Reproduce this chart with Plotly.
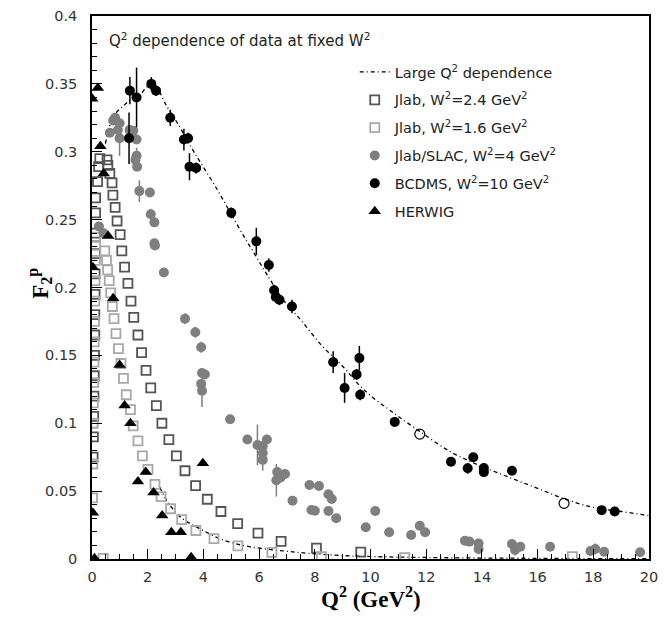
import plotly.graph_objects as go

# ---------------- data ----------------
# "Large Q^2 dependence" curve, W^2 = 10 GeV^2
curve10_q2 = [0.48, 0.77, 1.14, 1.5, 1.77, 2.0, 2.3, 2.7, 3.1, 3.6, 3.9, 4.5, 5.0, 5.5, 5.8, 6.24,
              6.9, 7.5, 8.26, 9.0, 9.6, 10.08, 10.6, 11.0, 11.77, 12.87, 13.9, 15.0, 16.0, 17.0,
              18.0, 19.0, 20.0]
curve10_f2 = [0.306, 0.326, 0.334, 0.34, 0.343, 0.348, 0.347, 0.333, 0.320, 0.302, 0.292, 0.272,
              0.254, 0.236, 0.226, 0.211, 0.190, 0.176, 0.157, 0.142, 0.128, 0.119, 0.111, 0.105,
              0.094, 0.079, 0.069, 0.060, 0.052, 0.044, 0.038, 0.035, 0.032]

# same curve, W^2 = 1.6 GeV^2
curve16_q2 = [2.43, 2.75, 3.23, 3.85, 4.7, 5.69, 6.9, 7.77, 9.0, 10.2, 12.0, 14.0, 16.0, 18.0, 20.0]
curve16_f2 = [0.053, 0.041, 0.030, 0.0226, 0.014, 0.009, 0.0059, 0.0042, 0.0025, 0.0017, 0.0011,
              0.0007, 0.0005, 0.0003, 0.0002]

# Jlab, W^2 = 2.4 GeV^2
jlab24_q2 = [0.04, 0.05, 0.06, 0.07, 0.08, 0.09, 0.10, 0.10, 0.11, 0.11, 0.12, 0.12, 0.13, 0.13,
             0.20, 0.24, 0.28, 0.54, 0.57, 0.64, 0.72, 0.75, 0.83, 0.90, 1.01, 1.07, 1.17, 1.29,
             1.40, 1.50, 1.65, 1.78, 1.94, 2.11, 2.31, 2.51, 2.76, 3.03, 3.34, 3.72, 4.14, 4.63,
             5.23, 5.96, 6.79, 8.06, 9.65]
jlab24_f2 = [0.075, 0.09, 0.105, 0.12, 0.135, 0.15, 0.165, 0.18, 0.195, 0.21, 0.225, 0.24, 0.255,
             0.266, 0.278, 0.289, 0.295, 0.294, 0.290, 0.284, 0.277, 0.268, 0.259, 0.249, 0.239,
             0.227, 0.215, 0.203, 0.190, 0.178, 0.165, 0.152, 0.139, 0.126, 0.113, 0.100, 0.088,
             0.076, 0.065, 0.054, 0.044, 0.035, 0.026, 0.019, 0.013, 0.008, 0.005]

# Jlab, W^2 = 1.6 GeV^2
jlab16_q2 = [0.02, 0.03, 0.04, 0.05, 0.06, 0.07, 0.08, 0.09, 0.10, 0.11, 0.12, 0.13, 0.13, 0.40,
             0.46, 0.52, 0.56, 0.62, 0.67, 0.73, 0.79, 0.86, 0.95, 1.04, 1.13, 1.23, 1.38, 1.48,
             1.65, 1.81, 2.01, 2.26, 2.48, 2.82, 3.22, 3.73, 4.38, 5.24, 6.46, 8.24, 11.23, 17.25]
jlab16_f2 = [0.045, 0.07, 0.10, 0.115, 0.13, 0.145, 0.16, 0.175, 0.19, 0.205, 0.22, 0.231, 0.237,
             0.0005, 0.227, 0.220, 0.213, 0.205, 0.196, 0.186, 0.177, 0.166, 0.155, 0.144, 0.133,
             0.121, 0.110, 0.098, 0.087, 0.076, 0.066, 0.055, 0.046, 0.037, 0.029, 0.021, 0.015,
             0.0096, 0.0049, 0.0017, 0.001, 0.0017]

# Jlab/SLAC, W^2 = 4 GeV^2
slac_q2 = [0.25, 0.42, 0.64, 0.76, 0.83, 0.93, 0.99, 0.99, 1.35, 1.48, 1.60, 1.60, 1.56, 1.62,
           1.70, 2.08, 2.11, 2.24, 2.24, 2.26, 2.58, 3.34, 3.71, 3.92, 3.95, 4.05, 3.92, 3.95,
           4.96, 5.58, 5.94, 6.28, 6.13, 6.13, 6.13, 6.65, 6.62, 6.77, 6.93, 7.20, 7.81, 8.15,
           8.49, 8.61, 7.88, 8.00, 8.49, 8.77, 10.17, 9.83, 10.67, 11.46, 11.77, 11.96, 13.39,
           13.55, 13.88, 13.88, 15.08, 15.19, 15.38, 16.45, 17.90, 18.07, 18.39, 19.68]
slac_f2 = [0.245, 0.240, 0.314, 0.323, 0.325, 0.316, 0.321, 0.310, 0.316, 0.3155, 0.309, 0.297,
           0.294, 0.289, 0.271, 0.270, 0.254, 0.248, 0.2326, 0.231, 0.211, 0.177, 0.167, 0.156,
           0.137, 0.136, 0.129, 0.124, 0.103, 0.088, 0.084, 0.088, 0.083, 0.078, 0.073, 0.064,
           0.058, 0.060, 0.0626, 0.043, 0.0545, 0.0538, 0.0477, 0.0442, 0.0361, 0.0356, 0.0354,
           0.030, 0.0354, 0.0234, 0.0197, 0.0177, 0.0245, 0.0197, 0.0135, 0.0128, 0.0115, 0.0074,
           0.011, 0.0066, 0.009, 0.009, 0.0059, 0.0074, 0.0054, 0.005]
slac_err = [0.003, 0.003, 0.003, 0.003, 0.003, 0.003, 0.003, 0.013, 0.003, 0.003, 0.003, 0.006,
            0.003, 0.003, 0.008, 0.003, 0.004, 0.003, 0.003, 0.003, 0.003, 0.004, 0.004, 0.004,
            0.003, 0.003, 0.003, 0.012, 0.003, 0.003, 0.015, 0.003, 0.003, 0.003, 0.008, 0.003,
            0.012, 0.003, 0.003, 0.003, 0.002, 0.002, 0.002, 0.002, 0.002, 0.002, 0.002, 0.002,
            0.002, 0.002, 0.002, 0.002, 0.002, 0.002, 0.002, 0.002, 0.002, 0.004, 0.002, 0.004,
            0.002, 0.002, 0.002, 0.004, 0.002, 0.002]

# BCDMS, W^2 = 10 GeV^2
bcdms_q2 = [1.36, 1.60, 1.33, 2.13, 2.30, 2.81, 3.30, 3.45, 3.50, 3.74, 5.0, 5.9, 6.35, 6.54, 6.60,
            6.73, 7.18, 8.66, 9.60, 9.50, 9.07, 9.63, 10.87, 12.89, 13.49, 13.69, 14.07, 14.07,
            15.08, 18.30, 18.77]
bcdms_f2 = [0.345, 0.340, 0.310, 0.350, 0.345, 0.325, 0.309, 0.310, 0.289, 0.288, 0.255, 0.234,
            0.2166, 0.198, 0.193, 0.191, 0.186, 0.145, 0.148, 0.136, 0.126, 0.121, 0.101, 0.0717,
            0.0668, 0.0749, 0.067, 0.064, 0.065, 0.036, 0.035]
bcdms_err = [0.01, 0.022, 0.019, 0.005, 0.004, 0.006, 0.008, 0.004, 0.010, 0.004, 0.004, 0.010,
             0.005, 0.004, 0.004, 0.004, 0.005, 0.008, 0.009, 0.004, 0.011, 0.004, 0.003, 0.003,
             0.004, 0.003, 0.003, 0.003, 0.003, 0.002, 0.002]

# open circles on the W^2 = 10 curve
open_q2 = [11.77, 16.95]
open_f2 = [0.092, 0.041]

# HERWIG
herwig_q2 = [0.21, 0.01, 0.30, 0.42, 0.58, 0.03, 0.76, 0.99, 1.17, 1.38, 1.93, 1.65, 2.21, 2.52,
             2.85, 3.19, 3.98, 0.03, 0.09, 3.56]
herwig_f2 = [0.347, 0.339, 0.304, 0.284, 0.238, 0.215, 0.192, 0.143, 0.113, 0.100, 0.064, 0.057,
             0.049, 0.032, 0.0197, 0.0197, 0.0705, 0.034, 0.0005, 0.0013]

x_ticks = [0, 2, 4, 6, 8, 10, 12, 14, 16, 18, 20]
y_ticks = [0, 0.05, 0.1, 0.15, 0.2, 0.25, 0.3, 0.35, 0.4]

# ---------------- figure ----------------
W, H = 664, 619
ML, MR, MT, MB = 92, 6, 16, 60

DARK = "#555555"
LIGHT = "#a8a8a8"
GRAY = "#7f7f7f"
DASH = "4px,3px,1px,3px"
SANS = "DejaVu Sans"

fig = go.Figure()

fig.add_trace(go.Scatter(
    x=curve10_q2, y=curve10_f2, mode="lines",
    line=dict(color="black", width=1.3, dash=DASH, shape="spline"),
    name="Large Q<sup>2</sup> dependence", legendgroup="g1", legendrank=1))
fig.add_trace(go.Scatter(
    x=curve16_q2, y=curve16_f2, mode="lines",
    line=dict(color="black", width=1.3, dash=DASH, shape="spline"),
    showlegend=False, legendgroup="g1"))

fig.add_trace(go.Scatter(
    x=jlab24_q2, y=jlab24_f2, mode="markers",
    marker=dict(symbol="square-open", size=9, color=DARK, line=dict(color=DARK, width=1.8)),
    name="Jlab, W<sup>2</sup>=2.4 GeV<sup>2</sup>", legendgroup="g2", legendrank=2))
fig.add_trace(go.Scatter(
    x=jlab16_q2, y=jlab16_f2, mode="markers",
    marker=dict(symbol="square-open", size=9, color=LIGHT, line=dict(color=LIGHT, width=1.8)),
    name="Jlab, W<sup>2</sup>=1.6 GeV<sup>2</sup>", legendgroup="g3", legendrank=3))
fig.add_trace(go.Scatter(
    x=slac_q2, y=slac_f2, mode="markers",
    error_y=dict(type="data", array=slac_err, color=GRAY, thickness=1.5, width=0),
    marker=dict(symbol="circle", size=10, color=GRAY),
    name="Jlab/SLAC, W<sup>2</sup>=4 GeV<sup>2</sup>", legendgroup="g4", legendrank=4))
fig.add_trace(go.Scatter(
    x=bcdms_q2, y=bcdms_f2, mode="markers",
    error_y=dict(type="data", array=bcdms_err, color="black", thickness=1.5, width=0),
    marker=dict(symbol="circle", size=10, color="black"),
    name="BCDMS, W<sup>2</sup>=10 GeV<sup>2</sup>", legendgroup="g5", legendrank=5))
fig.add_trace(go.Scatter(
    x=open_q2, y=open_f2, mode="markers",
    marker=dict(symbol="circle-open", size=10, color="black", line=dict(color="black", width=1.2)),
    showlegend=False))
fig.add_trace(go.Scatter(
    x=herwig_q2, y=herwig_f2, mode="markers",
    marker=dict(symbol="triangle-up", size=11, color="black"),
    name="HERWIG", legendgroup="g6", legendrank=6))

plot_w = W - ML - MR
plot_h = H - MT - MB

def px_x(page_x):
    return (page_x - ML) / plot_w

def px_y(page_y):
    return (H - MB - page_y) / plot_h

tickfont = dict(family=SANS, size=14.5, color="#333333")

fig.update_layout(
    width=W, height=H,
    margin=dict(l=ML, r=MR, t=MT, b=MB),
    paper_bgcolor="white", plot_bgcolor="white",
    showlegend=True,
    legend=dict(
        x=px_x(359), y=px_y(56), xanchor="left", yanchor="top",
        font=dict(family=SANS, size=14.5, color="#222222"),
        bgcolor="rgba(0,0,0,0)", traceorder="grouped", tracegroupgap=6,
    ),
    xaxis=dict(
        range=[0, 20], tickmode="array", tickvals=x_ticks,
        ticks="inside", ticklen=10, tickwidth=1, tickcolor="black",
        minor=dict(ticks="inside", dtick=0.5, ticklen=5, tickwidth=1, tickcolor="black"),
        showline=True, linecolor="black", linewidth=1.5, mirror=True,
        showgrid=False, zeroline=False, tickfont=tickfont, ticklabelstandoff=4,
        ticklabeloverflow="allow",
    ),
    yaxis=dict(
        range=[0, 0.4], tickmode="array", tickvals=y_ticks,
        ticks="inside", ticklen=10, tickwidth=1, tickcolor="black",
        minor=dict(ticks="inside", dtick=0.01, ticklen=5, tickwidth=1, tickcolor="black"),
        showline=True, linecolor="black", linewidth=1.5, mirror=True,
        showgrid=False, zeroline=False, tickfont=tickfont, ticklabelstandoff=10,
        ticklabeloverflow="allow",
    ),
    annotations=[
        dict(text="Q<sup>2</sup> dependence of data at fixed W<sup>2</sup>",
             xref="paper", yref="paper", x=px_x(107), y=px_y(40),
             xanchor="left", yanchor="middle", showarrow=False,
             font=dict(family=SANS, size=15, color="#222222")),
        dict(text="<b>Q<sup>2</sup> (GeV<sup>2</sup>)</b>",
             xref="paper", yref="paper", x=px_x(376), y=px_y(597),
             xanchor="center", yanchor="middle", showarrow=False,
             font=dict(family="Liberation Serif", size=23, color="black")),
        dict(text="<b>F<sub>2</sub><sup>p</sup></b>",
             xref="paper", yref="paper", x=px_x(38), y=px_y(283),
             xanchor="center", yanchor="middle", showarrow=False, textangle=-90,
             font=dict(family="Liberation Serif", size=23, color="black")),
    ],
)

# remove the default 8 px page margin so the figure sits at the window's origin
fig.write_html(
    "out.html",
    config={"displayModeBar": False},
    post_script="document.body.style.margin='0';document.body.style.overflow='hidden';"
                "document.documentElement.style.overflow='hidden';",
)
